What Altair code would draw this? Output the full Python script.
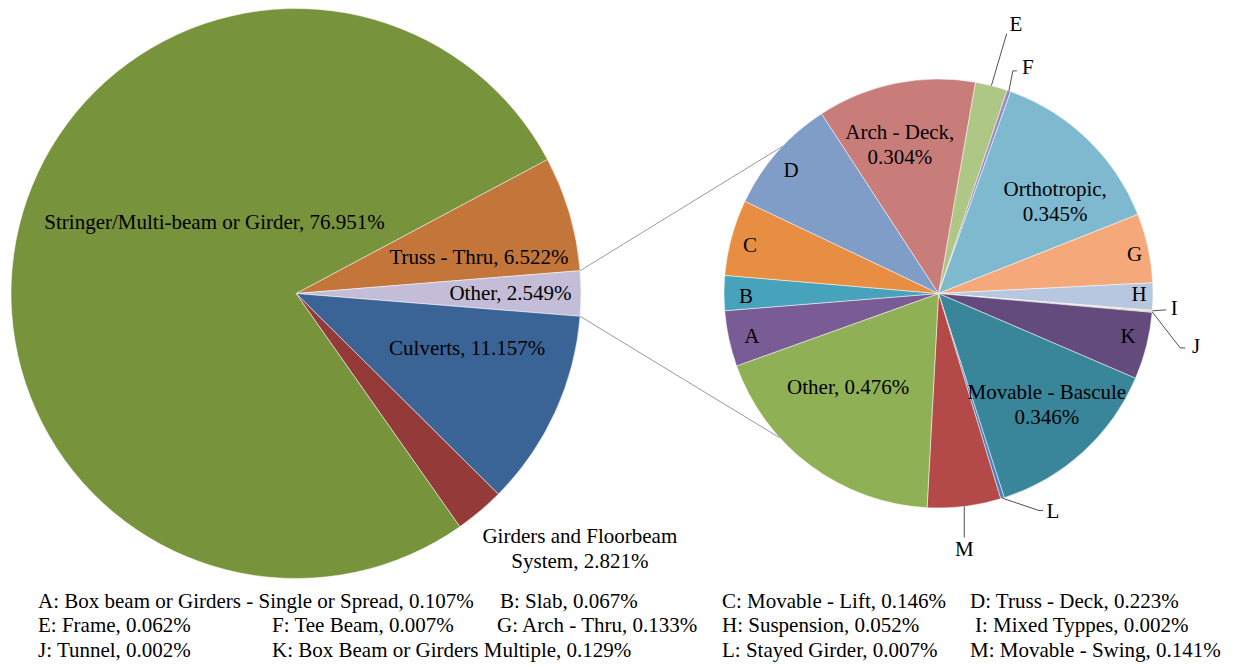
import math
import altair as alt
import pandas as pd

# ------------------------------------------------------------------ data
main_names = ["Truss - Thru", "Other", "Culverts",
              "Girders and Floorbeam System", "Stringer/Multi-beam or Girder"]
main_values = [6.522, 2.549, 11.157, 2.821, 76.951]
main_colors = ["#C4763A", "#C4BDD7", "#3B6496", "#943B3A", "#77933C"]

sub_names = ["E", "F", "Orthotropic", "G", "H", "I", "J", "K",
             "Movable - Bascule", "L", "M", "Other", "A", "B", "C", "D", "Arch - Deck"]
sub_values = [0.062, 0.007, 0.345, 0.133, 0.052, 0.002, 0.002, 0.129,
              0.346, 0.007, 0.141, 0.476, 0.107, 0.067, 0.146, 0.223, 0.304]
sub_colors = ["#AEC785", "#9A86BE", "#7EB9CF", "#F5A97A", "#B8C7E0", "#D9B99B", "#A2B56C",
              "#644B7D", "#39869A", "#4A7EBB", "#B34A48", "#90B055", "#795B96",
              "#47A3BB", "#E88E42", "#809DC7", "#C87D7B"]

legend_letters = ["A", "B", "C", "D", "E", "F", "G", "H", "I", "J", "K", "L", "M"]
legend_full = ["Box beam or Girders - Single or Spread", "Slab", "Movable - Lift",
               "Truss - Deck", "Frame", "Tee Beam", "Arch - Thru", "Suspension",
               "Mixed Typpes", "Tunnel", "Box Beam or Girders Multiple",
               "Stayed Girder", "Movable - Swing"]

# ------------------------------------------------------------------ layout
W, H = 1217, 659
OFF = 8  # page margin (screen -> chart coordinates)
FONT = "Liberation Serif, DejaVu Serif, Noto Serif, FreeSerif, Times, serif"
FS = 21

MCX, MCY, MR = 296 - OFF, 293.5 - OFF, 285
SCX, SCY, SR = 938.5 - OFF, 293.5 - OFF, 214.5
sub_start = 9.9  # degrees, clockwise from 12 o'clock


def polar(cx, cy, ang, r):
    a = math.radians(ang)
    return cx + r * math.sin(a), cy - r * math.cos(a)


def mids(values, start):
    total = sum(values)
    out, c = [], 0.0
    for v in values:
        out.append(start + (c + v / 2) / total * 360)
        c += v
    return out


main_total = sum(main_values)
main_start = 90 - (main_values[0] + main_values[1] / 2) / main_total * 360
sub_total = sum(sub_values)

main_mid = dict(zip(main_names, mids(main_values, main_start)))
sub_mid = dict(zip(sub_names, mids(sub_values, sub_start)))
main_val = dict(zip(main_names, main_values))
sub_val = dict(zip(sub_names, sub_values))

# label placement: (angle adjust, radius)
main_label_pos = {
    "Truss - Thru": (5.2, 186.5),
    "Other": (0.0, 214.5),
    "Culverts": (-6.6, 180),
    "Girders and Floorbeam System": (-9.2, 374),
    "Stringer/Multi-beam or Girder": (27.6, 108),
}
main_disp = {"Girders and Floorbeam System": "Girders and Floorbeam\nSystem"}

sub_label_pos = {
    "Arch - Deck": (-2.0, 165, ",\n"),
    "Orthotropic": (4.4, 156, ",\n"),
    "Movable - Bascule": (-5.2, 147, "\n"),
    "Other": (6.9, 131, ", "),
    "D": (-1.4, 192, None), "C": (-0.9, 194.5, None), "B": (-1.1, 192.5, None),
    "A": (-0.85, 191.5, None), "K": (-1.1, 194.5, None), "G": (1.0, 200, None),
    "H": (-0.3, 200.5, None),
}
# outside labels: leader path offsets from the slice edge, and label offset
sub_leaders = {
    "E": ([(15.3, -52)], (24.5, -61)),
    "F": ([(4, -20), (8, -20)], (19, -23)),
    "I": ([(14, -1)], (22, -2)),
    "J": ([(28, 36), (33, 36)], (44, 35)),
    "L": ([(36.5, 12.3), (40.5, 12.3)], (50.5, 13.3)),
    "M": ([(0, 31)], (0, 44)),
}
connector_angles = (313.3, 227.7)  # where the connectors meet the secondary pie

legend_pos = {
    "A": (38, 602), "B": (500, 602), "C": (722, 602), "D": (970, 602),
    "E": (38, 626), "F": (272, 626), "G": (497, 626), "H": (722, 626), "I": (975, 626),
    "J": (38, 651), "K": (272, 651), "L": (722, 651), "M": (970, 651),
}

# ------------------------------------------------------------------ tables
main_df = pd.DataFrame({"name": main_names, "value": main_values,
                        "ord": list(range(len(main_names)))})
sub_df = pd.DataFrame({"name": sub_names, "value": sub_values,
                       "ord": list(range(len(sub_names)))})

labels = []
for n in main_names:
    adj, r = main_label_pos[n]
    x, y = polar(MCX, MCY, main_mid[n] + adj, r)
    labels.append({"x": x, "y": y, "text": f"{main_disp.get(n, n)}, {main_val[n]:.3f}%"})
for n, (adj, r, sep) in sub_label_pos.items():
    x, y = polar(SCX, SCY, sub_mid[n] + adj, r)
    t = n if sep is None else f"{n}{sep}{sub_val[n]:.3f}%"
    labels.append({"x": x, "y": y, "text": t})

leader_segs = []
for n, (pts, lab) in sub_leaders.items():
    sx0, sy0 = polar(SCX, SCY, sub_mid[n], SR)
    prev = (sx0, sy0)
    for dx, dy in pts:
        cur = (sx0 + dx, sy0 + dy)
        leader_segs.append({"x": prev[0], "y": prev[1], "x2": cur[0], "y2": cur[1]})
        prev = cur
    labels.append({"x": sx0 + lab[0], "y": sy0 + lab[1], "text": n})
labels_df = pd.DataFrame(labels)
leader_df = pd.DataFrame(leader_segs)

# connectors from the "Other" slice of the main pie to the secondary pie
c0 = sum(main_values[:1]) / main_total * 360 + main_start
c1 = sum(main_values[:2]) / main_total * 360 + main_start
p_top = polar(MCX, MCY, c0, MR)
p_bot = polar(MCX, MCY, c1, MR)
q_top = polar(SCX, SCY, connector_angles[0], SR)
q_bot = polar(SCX, SCY, connector_angles[1], SR)
conn_df = pd.DataFrame([
    {"x": p_top[0], "y": p_top[1], "x2": q_top[0], "y2": q_top[1]},
    {"x": p_bot[0], "y": p_bot[1], "x2": q_bot[0], "y2": q_bot[1]},
])

leg = []
full = dict(zip(legend_letters, legend_full))
for L in legend_letters:
    x, y = legend_pos[L]
    leg.append({"x": x - OFF, "y": y - OFF,
                "text": f"{L}: {full[L]}, {sub_val[L]:.3f}%"})
legend_df = pd.DataFrame(leg)

# ------------------------------------------------------------------ chart
def pie(df, start, total, cx, cy, r, names, colors):
    a = math.radians(start)
    return alt.Chart(df).mark_arc(radius=r, stroke="white", strokeWidth=0.5).encode(
        theta=alt.Theta("value:Q", stack=True,
                        scale=alt.Scale(domain=[0, total], range=[a, a + 2 * math.pi], nice=False)),
        color=alt.Color("name:N", scale=alt.Scale(domain=names, range=colors), legend=None),
        order=alt.Order("ord:Q"),
        x=alt.value(cx),
        y=alt.value(cy),
    )


main_pie = pie(main_df, main_start, main_total, MCX, MCY, MR, main_names, main_colors)
sub_pie = pie(sub_df, sub_start, sub_total, SCX, SCY, SR, sub_names, sub_colors)

px = dict(scale=None, axis=None)


def rules(df, color):
    return alt.Chart(df).mark_rule(color=color, strokeWidth=1).encode(
        x=alt.X("x:Q", **px), y=alt.Y("y:Q", **px),
        x2="x2:Q", y2="y2:Q")


conn = rules(conn_df, "#9A9A9A")
leaders = rules(leader_df, "#505050")

label_text = alt.Chart(labels_df).mark_text(
    font=FONT, fontSize=FS, lineBreak="\n", lineHeight=25,
    align="center", baseline="middle", color="black").encode(
    x=alt.X("x:Q", **px), y=alt.Y("y:Q", **px), text="text:N")

legend_text = alt.Chart(legend_df).mark_text(
    font=FONT, fontSize=FS, align="left", baseline="middle", color="black").encode(
    x=alt.X("x:Q", **px), y=alt.Y("y:Q", **px), text="text:N")

chart = alt.layer(main_pie, sub_pie, conn, leaders, label_text, legend_text).resolve_scale(
    theta="independent", color="independent"
).properties(
    width=W, height=H, autosize="none", padding=0, background="white"
).configure_view(stroke=None).configure_text(font=FONT)

chart.save("out.html", embed_options={"renderer": "svg", "actions": False})
